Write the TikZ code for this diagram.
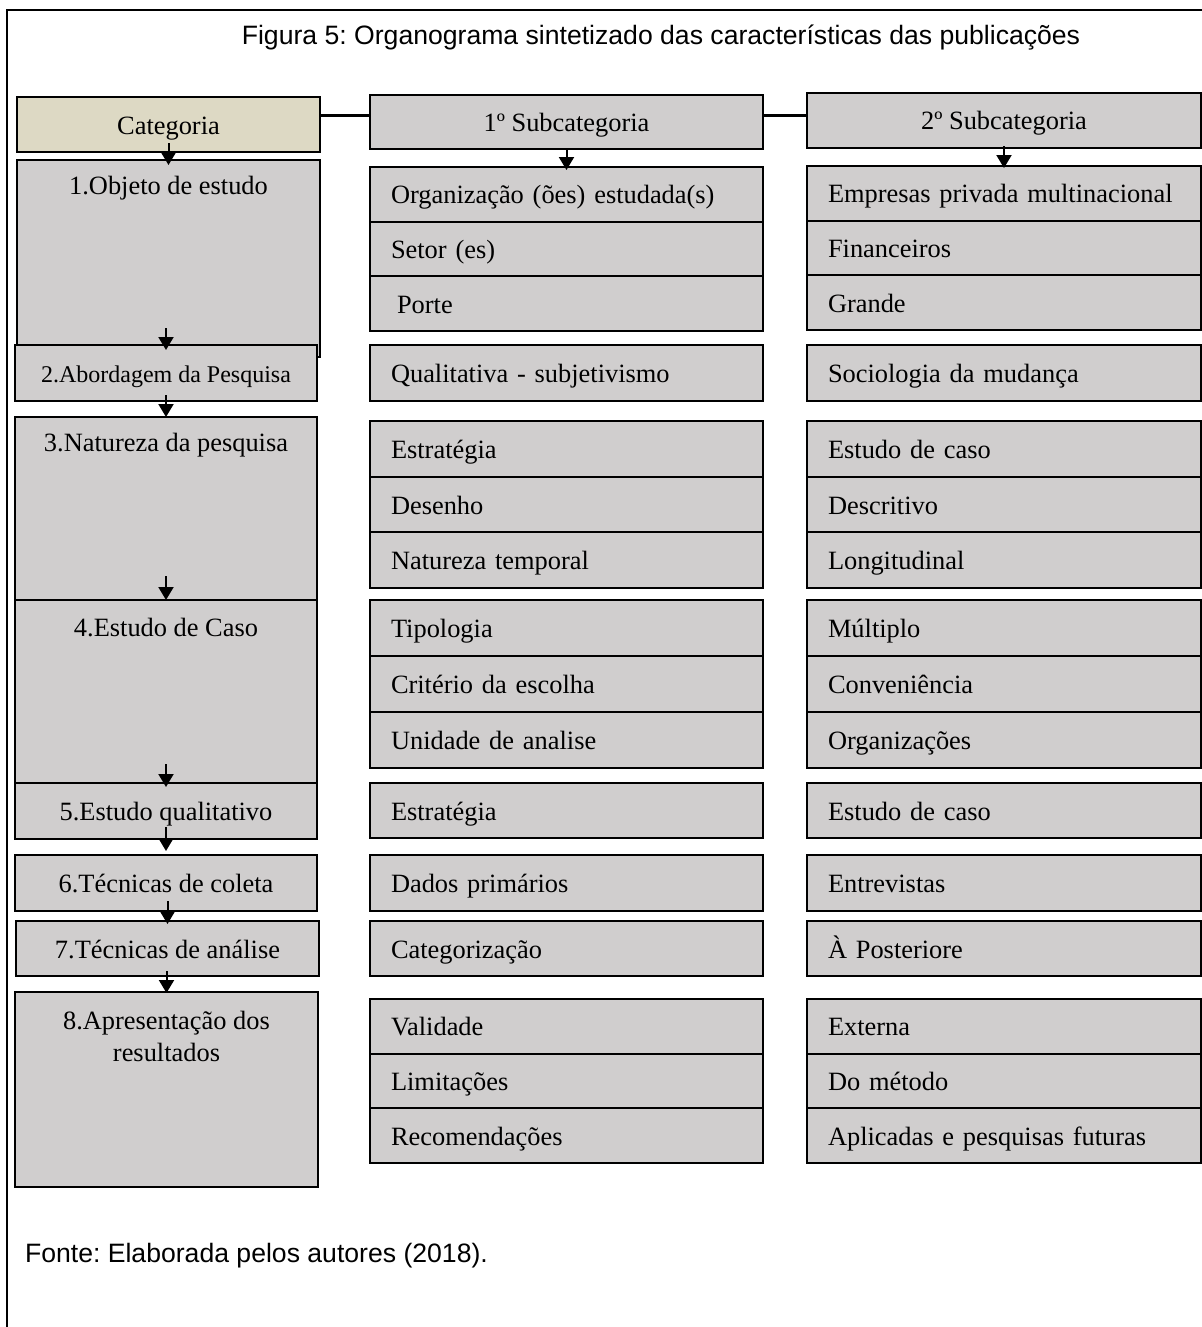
\documentclass[tikz,border=0pt]{standalone}
\usepackage{fontspec}
\setmainfont{Liberation Serif}
\newfontfamily\arialfont{Liberation Sans}
\usetikzlibrary{arrows.meta,calc}
\definecolor{cellgray}{HTML}{D0CECE}
\definecolor{cattan}{HTML}{DDD9C4}
\begin{document}
\frenchspacing
\begin{tikzpicture}[x=0.5pt,y=-0.5pt,
  every node/.style={font=\frenchspacing\fontsize{13.2}{16}\selectfont},
  cell/.style={draw=black, line width=1pt, fill=cellgray, anchor=north west, inner sep=0pt, outer sep=0pt, text height=11pt, text depth=1.5pt},
  c1/.style={cell, minimum width=151.5pt},
  c2/.style={cell, minimum width=196.5pt, text width=175.5pt, align=left},
  c3/.style={cell, minimum width=197pt, text width=176pt, align=left},
  hdr2/.style={cell, minimum width=196.5pt},
  hdr3/.style={cell, minimum width=197pt},
  lbl/.style={inner sep=0pt, align=center},
  conn/.style={line width=1.5pt},
  arr/.style={-{Triangle[width=7.5pt,length=6.5pt]}, line width=1pt},
  g1/.style={minimum height=27.35pt},
  g2/.style={minimum height=27.85pt},
  g3/.style={minimum height=28pt},
  g4/.style={minimum height=27.35pt}
]
\useasboundingbox (0,0) rectangle (1202,1327);
\clip (0,0) rectangle (1202,1327);
\fill[white] (0,0) rectangle (1202,1327);
% outer frame
\draw[line width=1pt] (7,1340) -- (7,10) -- (1215,10);
% title and source
\node[font=\frenchspacing\arialfont\fontsize{13.3}{16}\selectfont, anchor=base] (title) at (661,45)
  {Figura 5: Organograma sintetizado das características das publicações};
\node[font=\frenchspacing\arialfont\fontsize{13.3}{16}\selectfont, anchor=base west] (src) at (18,1262)
  {Fonte: Elaborada pelos autores (2018).};

% headers
\node[c1, fill=cattan, minimum height=27.5pt] (cat) at (17,97) {Categoria};
\node[hdr2, minimum height=27pt] (sub1) at (370,95) {1º Subcategoria};
\node[hdr3, minimum height=27.5pt] (sub2) at (807,93) {2º Subcategoria};
\draw[conn] ([yshift=4.25pt]cat.east) -- ([yshift=4.25pt]cat.east -| sub1.west);
\draw[conn] ([yshift=3pt]sub1.east) -- ([yshift=3pt]sub1.east -| sub2.west);

% column 1
\node[c1, minimum height=98.5pt] (b1) at (17,160) {};
\node[lbl] (b1t) at ([yshift=-14pt]b1.north) {1.Objeto de estudo};
\node[cell, minimum width=151pt, minimum height=28pt, font=\frenchspacing\fontsize{12}{14}\selectfont] (b2) at (15,345) {2.Abordagem da Pesquisa};
\node[cell, minimum width=151pt, minimum height=91.5pt] (b3) at (15,417) {};
\node[lbl] (b3t) at ([yshift=-14pt]b3.north) {3.Natureza da pesquisa};
\node[cell, minimum width=151pt, minimum height=91.5pt] (b4) at (15,600) {};
\node[lbl] (b4t) at ([yshift=-14pt]b4.north) {4.Estudo de Caso};
\node[cell, minimum width=151pt, minimum height=28pt] (b5) at (15,783) {5.Estudo qualitativo};
\node[cell, minimum width=151pt, minimum height=28pt] (b6) at (15,855) {6.Técnicas de coleta};
\node[c1, minimum height=27.5pt] (b7) at (16,921) {7.Técnicas de análise};
\node[c1, minimum height=97.5pt] (b8) at (15,992) {};
\node[lbl] (b8t) at ([yshift=-22pt]b8.north) {8.Apresentação dos\\resultados};

% column 2
\node[c2,g1] (s1a) at (370,167) {Organização (ões) estudada(s)};
\node[c2,g1] (s1b) at (s1a.south west) {Setor (es)};
\node[c2,g1] (s1c) at (s1b.south west) {\hspace*{3pt}Porte};
\node[c2,minimum height=28pt] (s2) at (370,345) {Qualitativa - subjetivismo};
\node[c2,g2] (s3a) at (370,421) {Estratégia};
\node[c2,g2] (s3b) at (s3a.south west) {Desenho};
\node[c2,g2] (s3c) at (s3b.south west) {Natureza temporal};
\node[c2,g3] (s4a) at (370,600) {Tipologia};
\node[c2,g3] (s4b) at (s4a.south west) {Critério da escolha};
\node[c2,g3] (s4c) at (s4b.south west) {Unidade de analise};
\node[c2,minimum height=27.5pt] (s5) at (370,783) {Estratégia};
\node[c2,minimum height=28pt] (s6) at (370,855) {Dados primários};
\node[c2,minimum height=27.5pt] (s7) at (370,921) {Categorização};
\node[c2,g4] (s8a) at (370,999) {Validade};
\node[c2,g4] (s8b) at (s8a.south west) {Limitações};
\node[c2,g4] (s8c) at (s8b.south west) {Recomendações};

% column 3
\node[c3,g1] (t1a) at (807,166) {Empresas privada multinacional};
\node[c3,g1] (t1b) at (t1a.south west) {Financeiros};
\node[c3,g1] (t1c) at (t1b.south west) {Grande};
\node[c3,minimum height=28pt] (t2) at (807,345) {Sociologia da mudança};
\node[c3,g2] (t3a) at (807,421) {Estudo de caso};
\node[c3,g2] (t3b) at (t3a.south west) {Descritivo};
\node[c3,g2] (t3c) at (t3b.south west) {Longitudinal};
\node[c3,g3] (t4a) at (807,600) {Múltiplo};
\node[c3,g3] (t4b) at (t4a.south west) {Conveniência};
\node[c3,g3] (t4c) at (t4b.south west) {Organizações};
\node[c3,minimum height=27.5pt] (t5) at (807,783) {Estudo de caso};
\node[c3,minimum height=28pt] (t6) at (807,855) {Entrevistas};
\node[c3,minimum height=27.5pt] (t7) at (807,921) {À Posteriore};
\node[c3,g4] (t8a) at (807,999) {Externa};
\node[c3,g4] (t8b) at (t8a.south west) {Do método};
\node[c3,g4] (t8c) at (t8b.south west) {Aplicadas e pesquisas futuras};

% arrows
\draw[arr] ([yshift=4.5pt]cat.south) -- ([yshift=-2.5pt]b1.north);
\draw[arr] ([yshift=0.5pt]sub1.south) -- ([yshift=-1.5pt]s1a.north);
\draw[arr] ([yshift=1pt]sub2.south) -- ([yshift=-1pt]t1a.north);
\draw[arr] ([yshift=14.5pt]b1.south -| b2.north) -- ([yshift=-2.5pt]b2.north);
\draw[arr] ([yshift=3pt]b2.south -| b3.north) -- (b3.north);
\draw[arr] ([yshift=12pt]b3.south -| b4.north) -- (b4.north);
\draw[arr] ([yshift=9.5pt]b4.south -| b5.north) -- ([yshift=-2pt]b5.north);
\draw[arr] ([yshift=6pt]b5.south -| b6.north) -- ([yshift=2pt]b6.north);
\draw[arr] ([yshift=5pt]b6.south -| b7.north) -- ([yshift=-1.5pt]b7.north);
\draw[arr] ([yshift=2.5pt]b7.south -| b8.north) -- ([yshift=-0.5pt]b8.north);
\end{tikzpicture}
\end{document}
